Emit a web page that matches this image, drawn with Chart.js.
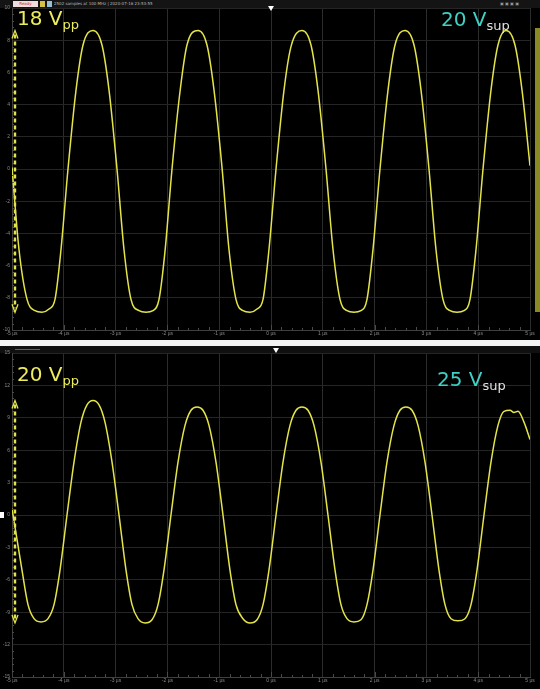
<!DOCTYPE html>
<html>
<head>
<meta charset="utf-8">
<script src="https://cdn.jsdelivr.net/npm/chart.js@4/dist/chart.umd.min.js"></script>
<style>
body{margin:0;background:#000;width:540px;height:689px;overflow:hidden;position:relative;font-family:"DejaVu Sans",sans-serif}
.panel{position:absolute;left:0;width:540px}
#topWrap{top:0;height:340px}
#botWrap{top:346px;height:343px}
.sep{position:absolute;left:0;top:340px;width:540px;height:6px;background:#f4f4f4}
.bar{position:absolute;left:0;width:540px;background:#141414}
.lbl{position:absolute;font-size:20px;line-height:1;white-space:nowrap}
.lbl sub{font-size:13px;vertical-align:-4px}
.tiny{position:absolute;font-size:4px;line-height:6px;white-space:nowrap;color:#bbb}
.tri{position:absolute;width:0;height:0;border-left:3px solid transparent;border-right:3px solid transparent;border-top:5px solid #fff}
</style>
</head>
<body>
<div class="bar" style="top:0;height:8px"></div>
<div class="tiny" style="left:13px;top:1px;width:25px;height:6px;background:#f0dcdc;color:#c03030;text-align:center">Ready</div>
<div style="position:absolute;left:40px;top:1px;width:5px;height:6px;background:#d8c040"></div>
<div style="position:absolute;left:47px;top:1px;width:5px;height:6px;background:#9ac0d8"></div>
<div class="tiny" style="left:54px;top:1px">2502 samples at 100 MHz | 2020-07-16 23:53:55</div>
<div class="tiny" style="left:500px;top:1px;color:#999">&#9635; &#9635; &#9635; &#9635;</div>

<div class="panel" id="topWrap"><canvas id="topChart" width="540" height="340"></canvas></div>
<div class="sep"></div>
<div class="bar" style="top:346px;height:7px;background:#101010"></div>
<div style="position:absolute;left:15px;top:349px;width:25px;height:1px;background:#d03030"></div>
<div class="panel" id="botWrap"><canvas id="botChart" width="540" height="343"></canvas></div>

<div class="tri" style="left:268px;top:6px"></div>
<div class="tri" style="left:273px;top:348px"></div>
<div style="position:absolute;left:535px;top:28px;width:5px;height:284px;background:#b8b830;opacity:0.75"></div>
<div style="position:absolute;left:0;top:512px;width:4px;height:6px;background:#fff"></div>

<div class="lbl" style="left:17px;top:8px;color:#ecec5c">18 V<sub>pp</sub></div>
<div class="lbl" style="left:441px;top:9px;color:#40d0c4">20 V<sub style="color:#e0e0e0">sup</sub></div>
<div class="lbl" style="left:17px;top:364px;color:#ecec5c">20 V<sub>pp</sub></div>
<div class="lbl" style="left:437px;top:369px;color:#40d0c4">25 V<sub style="color:#e0e0e0">sup</sub></div>

<script>
// time axis, microseconds
var timeLabels = ['-5 µs', '-4 µs', '-3 µs', '-2 µs', '-1 µs', '0 µs', '1 µs', '2 µs', '3 µs', '4 µs', '5 µs'];
var voltLabelsTop = ['10', '8', '6', '4', '2', '0', '-2', '-4', '-6', '-8', '-10'];
var voltLabelsBot = ['15', '12', '9', '6', '3', '0', '-3', '-6', '-9', '-12', '-15'];

// 20 V supply trace (2 V/div)
var timeTop = [-5.00, -4.865, -4.710, -4.556, -4.421, -4.286, -4.170, -4.054, -3.919, -3.764, -3.629, -3.436,
    -3.263, -3.127, -2.973, -2.838, -2.703, -2.548,
    -2.413, -2.278, -2.162, -2.046, -1.911, -1.757, -1.622, -1.409, -1.236, -1.100, -0.946, -0.811, -0.676, -0.541,
    -0.405, -0.270, -0.154, -0.039, 0.097, 0.251, 0.386, 0.598, 0.772, 0.907, 1.062, 1.197, 1.332, 1.467,
    1.602, 1.737, 1.853, 1.969, 2.104, 2.259, 2.394, 2.587, 2.761, 2.896, 3.050, 3.185, 3.320, 3.456,
    3.591, 3.726, 3.842, 3.958, 4.093, 4.247, 4.382, 4.537, 4.710, 4.846, 5.000];
var voltsTop = [0.1, -5.0, -8.1, -8.8, -8.9, -8.7, -8.1, -5.0, 0.0, 4.9, 7.7, 8.6,
    7.7, 4.9, 0.0, -5.0, -8.1, -8.8,
    -8.9, -8.8, -8.1, -5.1, 0.0, 4.8, 7.7, 8.6, 7.7, 4.9, 0.1, -5.0, -8.1, -8.8,
    -8.9, -8.7, -8.1, -5.0, 0.0, 4.9, 7.6, 8.6, 7.7, 4.9, 0.0, -5.0, -8.1, -8.8,
    -8.9, -8.8, -8.1, -5.0, 0.0, 4.9, 7.7, 8.6, 7.7, 4.9, 0.0, -5.0, -8.1, -8.8,
    -8.9, -8.8, -8.1, -5.0, 0.0, 4.9, 7.7, 8.6, 7.7, 4.9, 0.2];

// 25 V supply trace (3 V/div)
var timeBot = [-5.000, -4.807, -4.691, -4.575, -4.440, -4.305, -4.189, -4.073, -3.938, -3.803, -3.668, -3.552, -3.436,
    -3.320, -3.205, -3.069, -2.934, -2.799, -2.683, -2.568,
    -2.432, -2.297, -2.181, -2.066, -1.931, -1.795, -1.660, -1.544, -1.429, -1.313, -1.197, -1.062, -0.927, -0.792, -0.676, -0.541,
    -0.405, -0.270, -0.154, -0.039, 0.097, 0.232, 0.367, 0.483, 0.598, 0.714, 0.830, 0.965, 1.100, 1.236, 1.351, 1.467,
    1.602, 1.737, 1.853, 1.969, 2.104, 2.239, 2.375, 2.490, 2.606, 2.722, 2.838, 2.973, 3.108, 3.243, 3.359, 3.475,
    3.610, 3.745, 3.861, 3.977, 4.112, 4.247, 4.382, 4.498, 4.614, 4.691, 4.768, 4.884, 5.000];
var voltsBot = [0.6, -5.1, -8.3, -9.6, -9.9, -9.6, -8.3, -5.1, 0.0, 4.9, 8.6, 10.2, 10.6,
    10.2, 8.6, 4.9, 0.0, -5.1, -8.3, -9.6,
    -10.0, -9.7, -8.3, -5.1, 0.0, 4.9, 8.3, 9.7, 10.0, 9.7, 8.3, 4.9, 0.0, -5.1, -8.3, -9.6,
    -10.0, -9.7, -8.3, -5.1, 0.0, 4.9, 8.3, 9.7, 10.0, 9.7, 8.3, 4.9, 0.0, -5.1, -8.3, -9.6,
    -9.9, -9.7, -8.3, -5.1, 0.0, 4.9, 8.3, 9.7, 10.0, 9.7, 8.3, 4.9, 0.0, -5.1, -8.3, -9.6,
    -9.8, -9.6, -8.3, -5.1, 0.0, 4.9, 8.3, 9.6, 9.7, 9.5, 9.6, 8.6, 7.0];

var traceColor = '#e4e44a';

// dashed Vpp cursor + minor ticks
var scopePlugin = {
    id: 'scope',
    afterDraw: function (chart) {
        var ctx = chart.ctx, a = chart.chartArea;
        var xs = chart.scales.x, ys = chart.scales.y;
        ctx.save();
        ctx.strokeStyle = '#4a4a4a';
        ctx.lineWidth = 1;
        for (var i = 0; i <= 50; i++) {
            var v = xs.min + i * (xs.max - xs.min) / 50;
            var px = Math.round(xs.getPixelForValue(v)) + 0.5;
            var len = i % 5 === 0 ? 0 : (i % 5 === 2 || i % 5 === 3 ? 2 : 3);
            if (i % 10 === 5) len = 5;
            ctx.beginPath();
            ctx.moveTo(px, a.bottom);
            ctx.lineTo(px, a.bottom - len);
            ctx.stroke();
        }
        for (var j = 0; j <= 50; j++) {
            var vy = ys.min + j * (ys.max - ys.min) / 50;
            var py = Math.round(ys.getPixelForValue(vy)) + 0.5;
            ctx.beginPath();
            ctx.moveTo(a.left, py);
            ctx.lineTo(a.left + (j % 5 === 0 ? 0 : 2), py);
            ctx.stroke();
        }
        var data = chart.data.datasets[0].data.map(function (p) { return p.y; });
        var top = ys.getPixelForValue(Math.max.apply(null, data));
        var bot = ys.getPixelForValue(Math.min.apply(null, data));
        var x = a.left + 3;
        ctx.strokeStyle = traceColor;
        ctx.lineWidth = 2.4;
        ctx.setLineDash([4, 3]);
        ctx.beginPath();
        ctx.moveTo(x, top + 4);
        ctx.lineTo(x, bot - 4);
        ctx.stroke();
        ctx.setLineDash([]);
        ctx.lineWidth = 1.3;
        ctx.beginPath();
        ctx.moveTo(x - 3, top + 8); ctx.lineTo(x, top); ctx.lineTo(x + 3, top + 8);
        ctx.moveTo(x - 3, bot - 8); ctx.lineTo(x, bot); ctx.lineTo(x + 3, bot - 8);
        ctx.stroke();
        ctx.restore();
    }
};

function makeScope(id, times, volts, vmax, step, voltLabels, padTop, xHeight) {
    return new Chart(document.getElementById(id), {
        type: 'line',
        data: {
            datasets: [{
                data: times.map(function (t, i) { return {x: t, y: volts[i]}; }),
                borderColor: traceColor,
                borderWidth: 1.5,
                pointRadius: 0,
                cubicInterpolationMode: 'monotone'
            }]
        },
        options: {
            responsive: false,
            animation: false,
            layout: {padding: {left: 0, right: 10, top: padTop, bottom: 0}},
            plugins: {legend: {display: false}, tooltip: {enabled: false}},
            scales: {
                x: {
                    type: 'linear', min: -5, max: 5,
                    afterFit: function (s) { s.height = xHeight; },
                    ticks: {stepSize: 1, color: '#8a8a8a', font: {size: 5}, padding: 1, maxRotation: 0,
                        callback: function (v) { return timeLabels[Math.round(v) + 5]; }},
                    grid: {color: '#2c2c2c', lineWidth: 1, tickLength: 0},
                    border: {color: '#404040'}
                },
                y: {
                    min: -vmax, max: vmax,
                    afterFit: function (s) { s.width = 12; },
                    ticks: {stepSize: step, color: '#8a8a8a', font: {size: 5}, padding: 2,
                        callback: function (v) { return voltLabels[Math.round((vmax - v) / step)]; }},
                    grid: {color: '#252525', lineWidth: 1, tickLength: 0},
                    border: {color: '#404040'}
                }
            }
        },
        plugins: [scopePlugin]
    });
}

makeScope('topChart', timeTop, voltsTop, 10, 2, voltLabelsTop, 8, 10);
makeScope('botChart', timeBot, voltsBot, 15, 3, voltLabelsBot, 7, 12);
</script>
</body>
</html>
